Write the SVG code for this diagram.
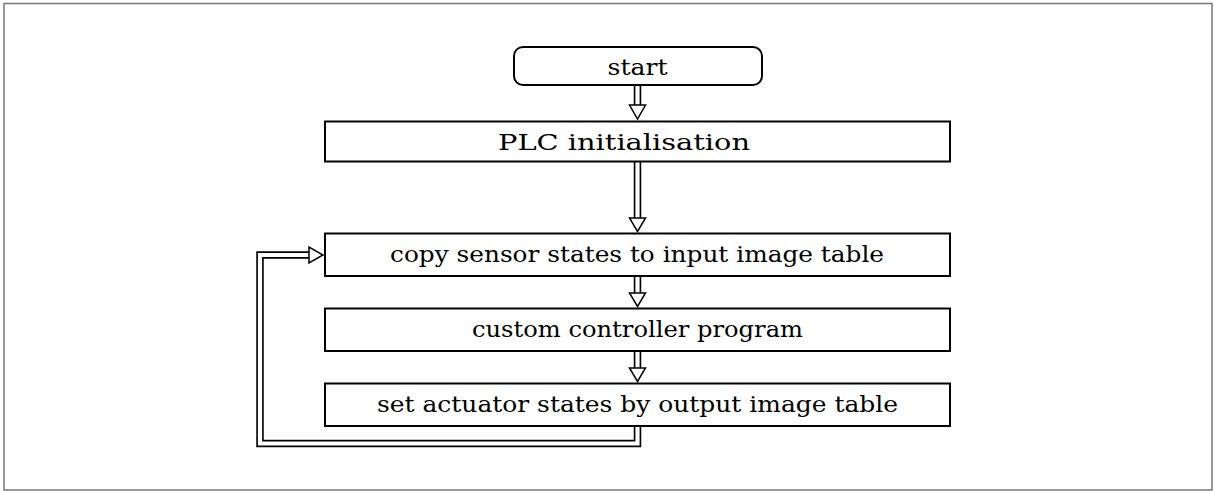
<svg xmlns="http://www.w3.org/2000/svg" width="1214" height="491" viewBox="0 0 1214 491">
  <defs>
    <style>
      .box { fill: #fff; stroke: #000; stroke-width: 2; }
      .dbl-out { fill: none; stroke: #000; stroke-width: 7.5; stroke-linejoin: miter; }
      .dbl-in { fill: none; stroke: #fff; stroke-width: 4.2; stroke-linejoin: miter; }
      .head { fill: #fff; stroke: #000; stroke-width: 1.5; stroke-linejoin: miter; }
    </style>
  </defs>

  <!-- outer frame -->
  <rect x="4" y="3.5" width="1208" height="486.5" fill="#fff" stroke="#777" stroke-width="1.5"/>

  <!-- connectors: double-line arrows -->
  <g id="connectors">
    <!-- start -> PLC initialisation -->
    <path class="dbl-out" d="M637.5 85 V106"/>
    <path class="dbl-in" d="M637.5 84 V107"/>
    <path class="head" d="M629.5 105 H645.5 L637.5 119 Z"/>

    <!-- PLC initialisation -> copy sensor states -->
    <path class="dbl-out" d="M637.5 162 V219"/>
    <path class="dbl-in" d="M637.5 161 V220"/>
    <path class="head" d="M629.5 218 H645.5 L637.5 231.5 Z"/>

    <!-- copy sensor states -> custom controller program -->
    <path class="dbl-out" d="M637.5 277 V294"/>
    <path class="dbl-in" d="M637.5 276 V295"/>
    <path class="head" d="M629.5 293 H645.5 L637.5 306.5 Z"/>

    <!-- custom controller program -> set actuator states -->
    <path class="dbl-out" d="M637.5 352 V369"/>
    <path class="dbl-in" d="M637.5 351 V370"/>
    <path class="head" d="M629.5 368 H645.5 L637.5 381.5 Z"/>

    <!-- loop back: set actuator states -> copy sensor states -->
    <path class="dbl-out" d="M637.5 427 V443.5 H260 V255 H310"/>
    <path class="dbl-in" d="M637.5 426 V443.5 H260 V255 H311"/>
    <path class="head" d="M309 247 V263 L323 255 Z"/>
  </g>

  <g id="node-start">
    <rect class="box" x="514" y="47" width="248" height="38" rx="9" ry="9"/>
    <text x="637.5" y="75" font-family="'DejaVu Serif', 'Liberation Serif', serif" font-size="23" text-anchor="middle" textLength="60" lengthAdjust="spacingAndGlyphs">start</text>
  </g>

  <g id="node-init">
    <rect class="box" x="325" y="121.5" width="625" height="40"/>
    <text x="624" y="150" font-family="'DejaVu Serif', 'Liberation Serif', serif" font-size="23" text-anchor="middle" textLength="252" lengthAdjust="spacingAndGlyphs">PLC initialisation</text>
  </g>

  <g id="node-input">
    <rect class="box" x="325" y="233.5" width="625" height="42.5"/>
    <text x="637" y="262" font-family="'DejaVu Serif', 'Liberation Serif', serif" font-size="23" text-anchor="middle" textLength="494" lengthAdjust="spacingAndGlyphs">copy sensor states to input image table</text>
  </g>

  <g id="node-program">
    <rect class="box" x="325" y="308.5" width="625" height="42.5"/>
    <text x="637.5" y="337" font-family="'DejaVu Serif', 'Liberation Serif', serif" font-size="23" text-anchor="middle" textLength="331" lengthAdjust="spacingAndGlyphs">custom controller program</text>
  </g>

  <g id="node-output">
    <rect class="box" x="325" y="383.5" width="625" height="42.5"/>
    <text x="637.5" y="412" font-family="'DejaVu Serif', 'Liberation Serif', serif" font-size="23" text-anchor="middle" textLength="521" lengthAdjust="spacingAndGlyphs">set actuator states by output image table</text>
  </g>
</svg>
